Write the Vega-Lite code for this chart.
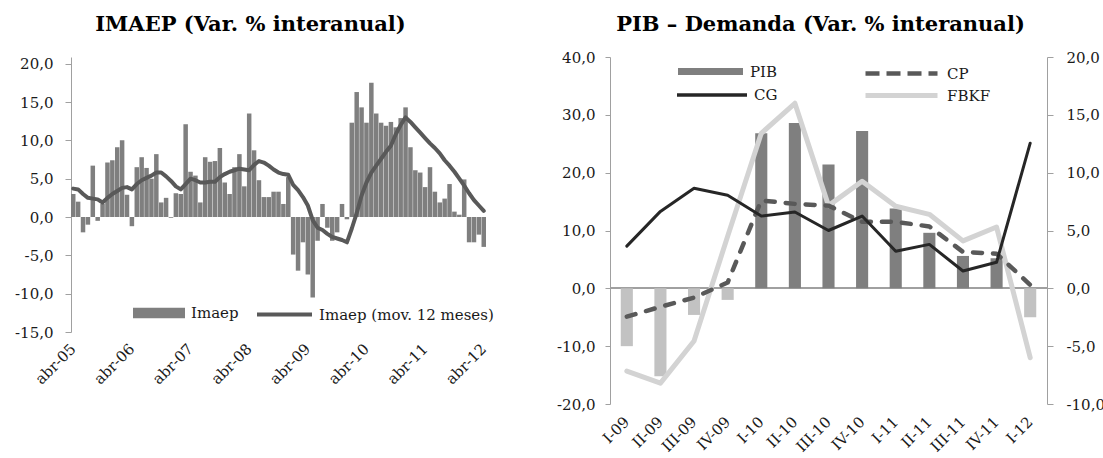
{
  "$schema": "https://vega.github.io/schema/vega-lite/v6.json",
  "background": "white",
  "padding": {"left": 14, "top": 13, "right": 0, "bottom": 0},
  "spacing": 62,
  "config": {
    "font": "DejaVu Serif",
    "view": {"stroke": null},
    "axis": {
      "labelFont": "DejaVu Serif",
      "labelFontSize": 15,
      "labelColor": "#1a1a1a",
      "domainColor": "#a0a0a0",
      "tickColor": "#a0a0a0",
      "grid": false,
      "title": null,
      "labelOverlap": false
    },
    "legend": {
      "labelFont": "DejaVu Serif",
      "labelFontSize": 15,
      "labelColor": "#1a1a1a",
      "labelLimit": 400,
      "title": null,
      "orient": "none"
    },
    "title": {"font": "DejaVu Serif", "fontSize": 21, "fontWeight": "bold", "color": "#000000"}
  },
  "resolve": {"scale": {"fill": "independent", "stroke": "independent"}},
  "hconcat": [
    {
      "width": 415,
      "height": 275,
      "title": {"text": "IMAEP (Var. % interanual)", "anchor": "middle", "dx": -28, "offset": 22},
      "data": {"values": [
        {"mes": "abr-05", "v": 3.0, "m": 3.7}, {"mes": "may-05", "v": 2.0, "m": 3.6}, {"mes": "jun-05", "v": -2.0, "m": 3.0},
        {"mes": "jul-05", "v": -1.0, "m": 2.5}, {"mes": "ago-05", "v": 6.7, "m": 2.4}, {"mes": "sep-05", "v": -0.5, "m": 2.3},
        {"mes": "oct-05", "v": 1.7, "m": 1.9}, {"mes": "nov-05", "v": 7.1, "m": 2.5}, {"mes": "dic-05", "v": 7.4, "m": 3.0},
        {"mes": "ene-06", "v": 9.1, "m": 3.4}, {"mes": "feb-06", "v": 10.0, "m": 3.8}, {"mes": "mar-06", "v": 2.9, "m": 3.9},
        {"mes": "abr-06", "v": -1.2, "m": 3.6}, {"mes": "may-06", "v": 6.5, "m": 4.3}, {"mes": "jun-06", "v": 7.8, "m": 4.8},
        {"mes": "jul-06", "v": 6.4, "m": 5.1}, {"mes": "ago-06", "v": 5.0, "m": 5.4}, {"mes": "sep-06", "v": 8.2, "m": 5.8},
        {"mes": "oct-06", "v": 1.9, "m": 5.8}, {"mes": "nov-06", "v": 2.5, "m": 5.3}, {"mes": "dic-06", "v": -0.1, "m": 4.7},
        {"mes": "ene-07", "v": 3.1, "m": 4.0}, {"mes": "feb-07", "v": 3.0, "m": 3.6}, {"mes": "mar-07", "v": 12.1, "m": 4.3},
        {"mes": "abr-07", "v": 5.9, "m": 5.0}, {"mes": "may-07", "v": 5.4, "m": 4.8}, {"mes": "jun-07", "v": 1.9, "m": 4.5},
        {"mes": "jul-07", "v": 7.8, "m": 4.5}, {"mes": "ago-07", "v": 7.2, "m": 4.6}, {"mes": "sep-07", "v": 7.3, "m": 4.6},
        {"mes": "oct-07", "v": 9.0, "m": 5.2}, {"mes": "nov-07", "v": 4.5, "m": 5.6}, {"mes": "dic-07", "v": 3.0, "m": 5.9},
        {"mes": "ene-08", "v": 6.5, "m": 6.1}, {"mes": "feb-08", "v": 8.2, "m": 6.3}, {"mes": "mar-08", "v": 4.0, "m": 6.2},
        {"mes": "abr-08", "v": 13.5, "m": 6.1}, {"mes": "may-08", "v": 8.7, "m": 6.8}, {"mes": "jun-08", "v": 4.8, "m": 7.3},
        {"mes": "jul-08", "v": 2.6, "m": 7.1}, {"mes": "ago-08", "v": 2.6, "m": 6.7}, {"mes": "sep-08", "v": 3.3, "m": 6.2},
        {"mes": "oct-08", "v": 3.3, "m": 5.8}, {"mes": "nov-08", "v": 1.7, "m": 5.6}, {"mes": "dic-08", "v": 5.2, "m": 5.5},
        {"mes": "ene-09", "v": -4.9, "m": 4.2}, {"mes": "feb-09", "v": -7.0, "m": 3.5}, {"mes": "mar-09", "v": -3.3, "m": 2.6},
        {"mes": "abr-09", "v": -7.5, "m": 1.5}, {"mes": "may-09", "v": -10.5, "m": -0.4}, {"mes": "jun-09", "v": -3.1, "m": -1.4},
        {"mes": "jul-09", "v": 1.7, "m": -1.7}, {"mes": "ago-09", "v": -1.4, "m": -2.2}, {"mes": "sep-09", "v": -3.1, "m": -2.6},
        {"mes": "oct-09", "v": -2.0, "m": -2.8}, {"mes": "nov-09", "v": 1.7, "m": -3.0}, {"mes": "dic-09", "v": -0.3, "m": -3.3},
        {"mes": "ene-10", "v": 12.3, "m": -1.5}, {"mes": "feb-10", "v": 16.3, "m": 0.5}, {"mes": "mar-10", "v": 14.3, "m": 2.8},
        {"mes": "abr-10", "v": 12.3, "m": 4.5}, {"mes": "may-10", "v": 17.5, "m": 5.8}, {"mes": "jun-10", "v": 13.5, "m": 6.7},
        {"mes": "jul-10", "v": 12.3, "m": 7.6}, {"mes": "ago-10", "v": 11.9, "m": 8.5}, {"mes": "sep-10", "v": 12.4, "m": 9.3},
        {"mes": "oct-10", "v": 11.7, "m": 10.8}, {"mes": "nov-10", "v": 12.9, "m": 12.0}, {"mes": "dic-10", "v": 14.3, "m": 13.0},
        {"mes": "ene-11", "v": 9.1, "m": 12.4}, {"mes": "feb-11", "v": 6.1, "m": 11.7}, {"mes": "mar-11", "v": 5.8, "m": 11.0},
        {"mes": "abr-11", "v": 3.9, "m": 10.3}, {"mes": "may-11", "v": 6.5, "m": 9.6}, {"mes": "jun-11", "v": 3.3, "m": 9.0},
        {"mes": "jul-11", "v": 1.9, "m": 8.3}, {"mes": "ago-11", "v": 2.4, "m": 7.4}, {"mes": "sep-11", "v": 4.3, "m": 6.7},
        {"mes": "oct-11", "v": 0.7, "m": 5.9}, {"mes": "nov-11", "v": 0.3, "m": 5.0}, {"mes": "dic-11", "v": 4.9, "m": 4.1},
        {"mes": "ene-12", "v": -3.3, "m": 3.1}, {"mes": "feb-12", "v": -3.3, "m": 2.2}, {"mes": "mar-12", "v": -2.3, "m": 1.5},
        {"mes": "abr-12", "v": -3.9, "m": 0.8}
      ]},
      "encoding": {
        "x": {
          "field": "mes", "type": "ordinal", "sort": null,
          "scale": {"paddingInner": 0.08, "paddingOuter": 0},
          "axis": {
            "bandPosition": 0, "labelAngle": -45, "labelAlign": "right", "labelBaseline": "middle",
            "labelExpr": "substring(datum.value, 0, 3) == 'abr' ? datum.value : ''",
            "ticks": false, "domain": false, "labelPadding": 14
          }
        }
      },
      "layer": [
        {
          "mark": {"type": "bar", "fill": "#7f7f7f"},
          "encoding": {
            "y": {
              "field": "v", "type": "quantitative",
              "scale": {"domain": [-15, 20.87], "nice": false, "zero": false},
              "axis": {
                "values": [-15, -10, -5, 0, 5, 10, 15, 20],
                "labelExpr": "(datum.value < 0 ? '-' : '') + replace(format(abs(datum.value), '.1f'), '.', ',')",
                "tickSize": 6, "labelPadding": 12, "labelOverlap": false
              }
            },
            "fill": {
              "datum": "Imaep",
              "scale": {"range": ["#7f7f7f"]},
              "legend": {
                "legendX": 62, "legendY": 230,
                "symbolType": "M-1,-0.2H1V0.2H-1Z", "symbolSize": 2704,
                "symbolStrokeWidth": 0, "labelOffset": 6
              }
            }
          }
        },
        {
          "mark": {"type": "rule", "color": "#a0a0a0", "strokeWidth": 1},
          "encoding": {
            "y": {
              "datum": 0, "type": "quantitative",
              "axis": {
                "values": [-15, -10, -5, 0, 5, 10, 15, 20],
                "labelExpr": "(datum.value < 0 ? '-' : '') + replace(format(abs(datum.value), '.1f'), '.', ',')",
                "tickSize": 6, "labelPadding": 12, "labelOverlap": false
              }
            }
          }
        },
        {
          "mark": {"type": "line", "strokeWidth": 4, "strokeJoin": "round", "strokeCap": "round"},
          "encoding": {
            "y": {
              "field": "m", "type": "quantitative",
              "axis": {
                "values": [-15, -10, -5, 0, 5, 10, 15, 20],
                "labelExpr": "(datum.value < 0 ? '-' : '') + replace(format(abs(datum.value), '.1f'), '.', ',')",
                "tickSize": 6, "labelPadding": 12, "labelOverlap": false
              }
            },
            "stroke": {
              "datum": "Imaep (mov. 12 meses)",
              "scale": {"range": ["#595959"]},
              "legend": {
                "legendX": 184, "legendY": 228,
                "symbolType": "stroke", "symbolSize": 3025,
                "symbolStrokeWidth": 4, "labelOffset": 5
              }
            }
          }
        }
      ]
    },
    {
      "width": 437,
      "height": 347,
      "title": {"text": "PIB – Demanda (Var. % interanual)", "anchor": "middle", "dx": -8, "offset": 0},
      "data": {"values": [
        {"t": "I-09", "s": "PIB", "v": -5.0}, {"t": "II-09", "s": "PIB", "v": -7.6}, {"t": "III-09", "s": "PIB", "v": -2.3},
        {"t": "IV-09", "s": "PIB", "v": -1.0}, {"t": "I-10", "s": "PIB", "v": 13.4}, {"t": "II-10", "s": "PIB", "v": 14.3},
        {"t": "III-10", "s": "PIB", "v": 10.7}, {"t": "IV-10", "s": "PIB", "v": 13.6}, {"t": "I-11", "s": "PIB", "v": 6.9},
        {"t": "II-11", "s": "PIB", "v": 4.8}, {"t": "III-11", "s": "PIB", "v": 2.8}, {"t": "IV-11", "s": "PIB", "v": 2.6},
        {"t": "I-12", "s": "PIB", "v": -2.5},
        {"t": "I-09", "s": "CP", "v": -4.9}, {"t": "II-09", "s": "CP", "v": -3.2}, {"t": "III-09", "s": "CP", "v": -1.6},
        {"t": "IV-09", "s": "CP", "v": 1.0}, {"t": "I-10", "s": "CP", "v": 15.2}, {"t": "II-10", "s": "CP", "v": 14.6},
        {"t": "III-10", "s": "CP", "v": 14.3}, {"t": "IV-10", "s": "CP", "v": 11.5}, {"t": "I-11", "s": "CP", "v": 11.5},
        {"t": "II-11", "s": "CP", "v": 10.7}, {"t": "III-11", "s": "CP", "v": 6.3}, {"t": "IV-11", "s": "CP", "v": 6.0},
        {"t": "I-12", "s": "CP", "v": 0.6},
        {"t": "I-09", "s": "CG", "v": 7.3}, {"t": "II-09", "s": "CG", "v": 13.3}, {"t": "III-09", "s": "CG", "v": 17.3},
        {"t": "IV-09", "s": "CG", "v": 16.1}, {"t": "I-10", "s": "CG", "v": 12.5}, {"t": "II-10", "s": "CG", "v": 13.2},
        {"t": "III-10", "s": "CG", "v": 10.0}, {"t": "IV-10", "s": "CG", "v": 12.5}, {"t": "I-11", "s": "CG", "v": 6.4},
        {"t": "II-11", "s": "CG", "v": 7.6}, {"t": "III-11", "s": "CG", "v": 3.0}, {"t": "IV-11", "s": "CG", "v": 4.5},
        {"t": "I-12", "s": "CG", "v": 25.1},
        {"t": "I-09", "s": "FBKF", "v": -14.3}, {"t": "II-09", "s": "FBKF", "v": -16.4}, {"t": "III-09", "s": "FBKF", "v": -9.1},
        {"t": "IV-09", "s": "FBKF", "v": 9.0}, {"t": "I-10", "s": "FBKF", "v": 26.8}, {"t": "II-10", "s": "FBKF", "v": 32.0},
        {"t": "III-10", "s": "FBKF", "v": 14.3}, {"t": "IV-10", "s": "FBKF", "v": 18.5}, {"t": "I-11", "s": "FBKF", "v": 14.2},
        {"t": "II-11", "s": "FBKF", "v": 12.8}, {"t": "III-11", "s": "FBKF", "v": 8.2}, {"t": "IV-11", "s": "FBKF", "v": 10.6},
        {"t": "I-12", "s": "FBKF", "v": -12.0}
      ]},
      "layer": [
        {
          "mark": {"type": "rule", "color": "#a0a0a0", "strokeWidth": 1},
          "encoding": {
            "y": {"datum": 0, "scale": {"domain": [-10, 20], "nice": false}, "axis": null}
          }
        },
        {
          "transform": [{"filter": "datum.s == 'PIB'"}],
          "mark": {"type": "bar", "width": {"band": 0.36}},
          "encoding": {
            "x": {
              "field": "t", "type": "ordinal", "sort": null,
              "scale": {"paddingInner": 0, "paddingOuter": 0},
              "axis": {
                "labelAngle": -45, "labelAlign": "right", "labelBaseline": "middle",
                "ticks": false, "domain": false, "labelPadding": 15
              }
            },
            "y": {
              "field": "v", "type": "quantitative",
              "scale": {"domain": [-10, 20], "nice": false},
              "axis": {
                "orient": "right",
                "values": [-10, -5, 0, 5, 10, 15, 20],
                "labelExpr": "(datum.value < 0 ? '-' : '') + replace(format(abs(datum.value), '.1f'), '.', ',')",
                "tickSize": 6, "labelPadding": 13
              }
            },
            "fill": {
              "datum": "PIB",
              "scale": {"range": ["#7f7f7f"]},
              "condition": {"test": "datum.v < 0", "value": "#c2c2c2"},
              "legend": {
                "legendX": 68, "legendY": -18,
                "symbolType": "M-1,-0.11H1V0.11H-1Z", "symbolSize": 4225,
                "symbolStrokeWidth": 0, "labelOffset": 7
              }
            }
          }
        },
        {
          "encoding": {
            "x": {"field": "t", "type": "ordinal", "sort": null},
            "y": {
              "field": "v", "type": "quantitative",
              "scale": {"domain": [-20, 40], "nice": false},
              "axis": {
                "orient": "left",
                "values": [-20, -10, 0, 10, 20, 30, 40],
                "labelExpr": "(datum.value < 0 ? '-' : '') + replace(format(abs(datum.value), '.1f'), '.', ',')",
                "tickSize": 5, "labelPadding": 10
              }
            }
          },
          "layer": [
            {
              "transform": [{"filter": "datum.s == 'FBKF'"}],
              "mark": {"type": "line", "strokeWidth": 5, "strokeJoin": "round", "strokeCap": "round"},
              "encoding": {
                "stroke": {
                  "datum": "FBKF",
                  "scale": {"range": ["#d3d3d3"]},
                  "legend": {
                    "legendX": 253, "legendY": 0,
                    "symbolType": "stroke", "symbolSize": 5184,
                    "symbolStrokeWidth": 5, "labelOffset": 7
                  }
                }
              }
            },
            {
              "transform": [{"filter": "datum.s == 'CP'"}],
              "mark": {"type": "line", "strokeWidth": 4.5, "strokeDash": [9, 11], "strokeCap": "round", "strokeJoin": "round"},
              "encoding": {
                "stroke": {
                  "datum": "CP",
                  "scale": {"range": ["#595959"]},
                  "legend": {
                    "legendX": 253, "legendY": -22,
                    "symbolType": "stroke", "symbolSize": 5184,
                    "symbolStrokeWidth": 4.5, "symbolDash": [14, 7], "labelOffset": 7
                  }
                }
              }
            },
            {
              "transform": [{"filter": "datum.s == 'CG'"}],
              "mark": {"type": "line", "strokeWidth": 3, "strokeJoin": "round", "strokeCap": "round"},
              "encoding": {
                "stroke": {
                  "datum": "CG",
                  "scale": {"range": ["#262626"]},
                  "legend": {
                    "legendX": 65, "legendY": 1,
                    "symbolType": "stroke", "symbolSize": 4900,
                    "symbolStrokeWidth": 3.5, "labelOffset": 5
                  }
                }
              }
            }
          ],
          "resolve": {"scale": {"stroke": "independent"}}
        }
      ],
      "resolve": {"scale": {"y": "independent", "stroke": "independent"}}
    }
  ]
}
